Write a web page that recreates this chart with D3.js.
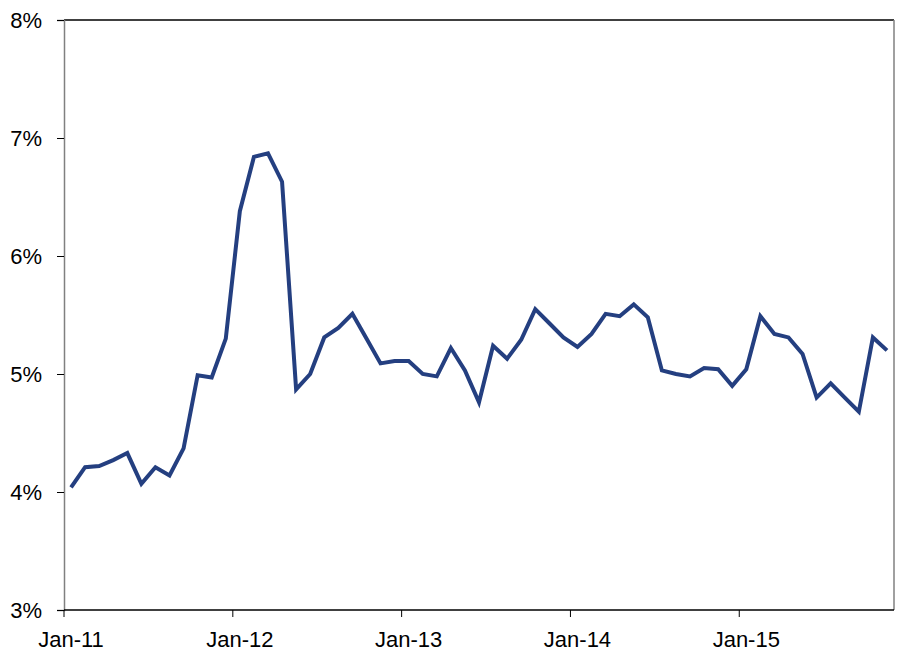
<!DOCTYPE html>
<html>
<head>
<meta charset="utf-8">
<script src="https://cdn.jsdelivr.net/npm/d3@7/dist/d3.min.js"></script>
<style>
  html, body { margin: 0; padding: 0; background: #fff; }
  svg { display: block; }
  text { font-family: "Liberation Sans", Arial, sans-serif; font-size: 22px; fill: #000; }
</style>
</head>
<body>
<svg id="chart" width="909" height="661"></svg>
<script>
// Monthly values, Jan-11 .. Nov-15 (percent)
const months = [];
const monthNames = ["Jan","Feb","Mar","Apr","May","Jun","Jul","Aug","Sep","Oct","Nov","Dec"];
for (let y = 11; y <= 15; y++) for (let m = 0; m < 12; m++) {
  if (y === 15 && m > 10) break;
  months.push(monthNames[m] + "-" + y);
}
const values = [
  4.04, 4.21, 4.22, 4.27, 4.33, 4.07, 4.21, 4.14, 4.37, 4.99, 4.97, 5.30,
  6.38, 6.84, 6.87, 6.63, 4.87, 5.00, 5.31, 5.39, 5.51, 5.30, 5.09, 5.11,
  5.11, 5.00, 4.98, 5.22, 5.03, 4.76, 5.24, 5.13, 5.29, 5.55, 5.43, 5.31,
  5.23, 5.34, 5.51, 5.49, 5.59, 5.48, 5.03, 5.00, 4.98, 5.05, 5.04, 4.90,
  5.04, 5.49, 5.34, 5.31, 5.17, 4.80, 4.92, 4.80, 4.68, 5.31, 5.20
];
const yTicks = [3, 4, 5, 6, 7, 8];
const xTickLabels = ["Jan-11", "Jan-12", "Jan-13", "Jan-14", "Jan-15"];

const svg = d3.select("#chart");
const L = 64, R = 894, T = 20, B = 610;

const x = d3.scaleBand().domain(months).range([L, R]).paddingInner(0).paddingOuter(0);
const y = d3.scaleLinear().domain([3, 8]).range([B, T]);

// plot border
svg.append("line").attr("x1", L).attr("x2", R).attr("y1", T).attr("y2", T).attr("stroke", "#000").attr("stroke-width", 1.5);
svg.append("line").attr("x1", R).attr("x2", R).attr("y1", T).attr("y2", B).attr("stroke", "#808080").attr("stroke-width", 1.5);

// Y axis
const yAxis = d3.axisLeft(y).tickValues(yTicks).tickSize(7).tickPadding(0).tickFormat(d => d + "%");
const gy = svg.append("g").attr("transform", `translate(${L},0)`).call(yAxis);
gy.select(".domain").attr("stroke", "#808080").attr("stroke-width", 1.5);
gy.selectAll(".tick line").attr("stroke", "#000").attr("stroke-width", 1);
gy.selectAll(".tick text")
  .attr("x", -22).attr("dy", "0.36em")
  .style("font-size", "22px").style("font-family", '"Liberation Sans", Arial, sans-serif');

// X axis: ticks at year boundaries, labels centred on January
const yearStarts = months.filter(m => m.startsWith("Jan"));
const gx = svg.append("g").attr("transform", `translate(0,${B})`);
gx.append("line").attr("x1", L).attr("x2", R).attr("y1", 0).attr("y2", 0).attr("stroke", "#000").attr("stroke-width", 1.5);
gx.selectAll("line.tk").data(yearStarts).join("line").attr("class", "tk")
  .attr("x1", d => x(d)).attr("x2", d => x(d)).attr("y1", 0).attr("y2", 7)
  .attr("stroke", "#000").attr("stroke-width", 1);
gx.selectAll("text.lb").data(yearStarts).join("text").attr("class", "lb")
  .attr("x", d => x(d) + x.bandwidth() / 2).attr("y", 37)
  .attr("text-anchor", "middle")
  .text((d, i) => xTickLabels[i]);

// line
const line = d3.line()
  .x((d, i) => x(months[i]) + x.bandwidth() / 2)
  .y(d => y(d));
svg.append("path").datum(values)
  .attr("d", line)
  .attr("fill", "none")
  .attr("stroke", "#243f80")
  .attr("stroke-width", 4)
  .attr("stroke-linejoin", "miter");
</script>
</body>
</html>
